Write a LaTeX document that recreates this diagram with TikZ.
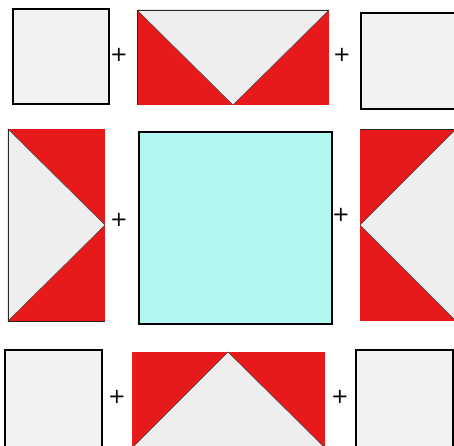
\documentclass[tikz,border=0pt]{standalone}
\usepackage{fontspec}
\setsansfont{DejaVu Sans}
\usepackage{tikz}

\definecolor{quiltred}{HTML}{E8191A}
\definecolor{quiltgray}{HTML}{EEEEEE}
\definecolor{plaingray}{HTML}{F2F2F2}
\definecolor{quiltcyan}{HTML}{B3F7F2}

\begin{document}
\begin{tikzpicture}[x=1pt,y=-1pt,
    plain/.style={draw=black,line width=1.6pt,fill=plaingray},
    centre/.style={draw=black,line width=1.6pt,fill=quiltcyan},
    goose/.style={fill=quiltgray,draw=black!75,line width=0.5pt},
    seam/.style={draw=black!85,line width=0.6pt},
    plus/.style={font=\sffamily\fontsize{21}{21}\selectfont,inner sep=0pt}
]

\useasboundingbox (0,0) rectangle (454,445);
\clip (0,0) rectangle (454,445);

% Top row
\draw[plain] (13,9) rectangle (109,104);
\fill[quiltred] (137,10) rectangle (329,105);
\filldraw[goose] (137,10) -- (329,10) -- (233,105) -- cycle;
\draw[seam] (137,105) -- (137,10) -- (329,10);
\draw[plain] (361,13) rectangle (462,109);

% Middle row
\fill[quiltred] (8,129) rectangle (105,321);
\filldraw[goose] (8,129) -- (105,225) -- (8,321) -- cycle;
\draw[seam] (8,129) -- (8,321) -- (105,321);
\draw[centre] (139,132) rectangle (332,324);
\fill[quiltred] (360,129) rectangle (456,321);
\filldraw[goose] (456,129) -- (360,225) -- (456,321) -- cycle;
\draw[seam] (360,129) -- (456,129);

% Bottom row
\draw[plain] (5,350) rectangle (102,460);
\fill[quiltred] (132,352) rectangle (325,460);
\filldraw[goose] (228,352) -- (325,448) -- (325,460) -- (132,460) -- (132,448) -- cycle;
\draw[plain] (356,350) rectangle (453,460);

% Plus signs
\node[plus] (plusTL) at (119,55) {+};
\node[plus] (plusTR) at (342,55) {+};
\node[plus] (plusML) at (119,220) {+};
\node[plus] (plusMR) at (341,215) {+};
\node[plus] (plusBL) at (117,397) {+};
\node[plus] (plusBR) at (340,397) {+};

\end{tikzpicture}
\end{document}
